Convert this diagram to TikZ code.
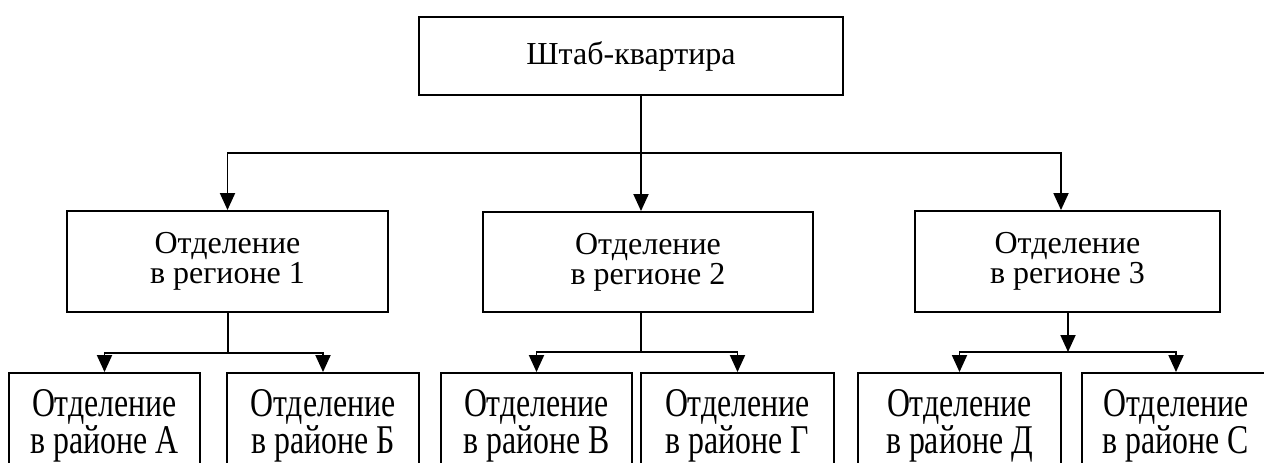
\documentclass[tikz,border=0pt]{standalone}
\usepackage{fontspec}
\setmainfont{Liberation Serif}
\newfontfamily\narrowserif[FakeStretch=0.78]{Liberation Serif}
\usetikzlibrary{arrows.meta}

\begin{document}
\begin{tikzpicture}[x=1pt,y=-1pt,
  box/.style={draw, line width=1.9pt, rectangle, inner sep=0pt, align=center,
    font=\fontsize{32}{32}\selectfont},
  unit/.style={box, minimum height=106pt,
    font=\narrowserif\fontsize{40.8}{32}\selectfont},
  link/.style={line width=1.9pt},
  arr/.style={link, -{Triangle[width=15pt,length=17pt]}}]

\useasboundingbox (0,0) rectangle (1264,463);
\clip (0,0) rectangle (1264,463);

% headquarters
\node[box, minimum width=424pt, minimum height=78pt] (hq) at (631,56)
  {\raisebox{3pt}{Штаб-квартира}};

% regional offices
\node[box, minimum width=321pt, minimum height=101pt] (r1) at (227.5,261.5)
  {\raisebox{-2pt}{\shortstack{Отделение\\в регионе 1}}};
\node[box, minimum width=330pt, minimum height=100pt] (r2) at (648,262)
  {\raisebox{-2pt}{\shortstack{Отделение\\в регионе 2}}};
\node[box, minimum width=305pt, minimum height=101pt] (r3) at (1067.5,261.5)
  {\raisebox{-2pt}{\shortstack{Отделение\\в регионе 3}}};

% district offices
\node[unit, minimum width=191pt] (uA) at (104.5,426) {Отделение\\в районе А};
\node[unit, minimum width=192pt] (uB) at (323,426)   {Отделение\\в районе Б};
\node[unit, minimum width=191pt] (uV) at (536.5,426) {Отделение\\в районе В};
\node[unit, minimum width=193pt] (uG) at (737.5,426) {Отделение\\в районе Г};
\node[unit, minimum width=203pt] (uD) at (959.5,426) {Отделение\\в районе Д};
\node[unit, minimum width=188pt] (uS) at (1176,426)  {Отделение\\в районе С};

% junction points
\coordinate (t0) at (641,153);
\coordinate (t3) at (1061,153);
\coordinate (b1) at (228,353);
\coordinate (b2) at (641,352);
\coordinate (b3) at (1068,352);

% headquarters to regions
\draw[link] (hq.south -| t0) -- (t0);
\draw[arr] (t0) -| (r1.north);
\draw[arr] (t0) -- (r2.north -| t0);
\draw[arr] (t0) -| (r3.north -| t3);

% region 1 to districts
\draw[link] (r1.south -| b1) -- (b1);
\draw[arr] (b1) -| (uA.north);
\draw[arr] (b1) -| (uB.north);

% region 2 to districts
\draw[link] (r2.south -| b2) -- (b2);
\draw[arr] (b2) -| (uV.north);
\draw[arr] (b2) -| (uG.north);

% region 3 to districts
\draw[arr] (r3.south -| b3) -- (b3);
\draw[arr] (b3) -| (uD.north);
\draw[arr] (b3) -| (uS.north);
\end{tikzpicture}
\end{document}
